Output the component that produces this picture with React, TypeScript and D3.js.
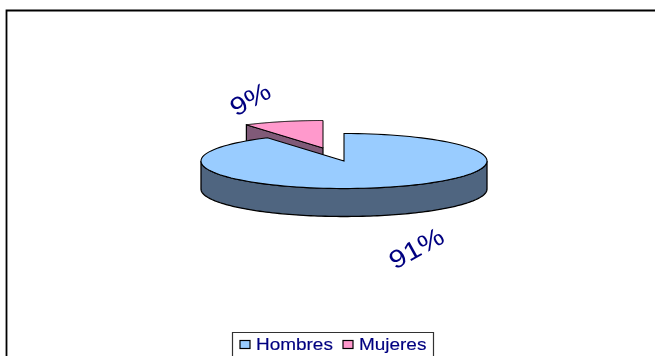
import React from "react";
import * as d3 from "d3";

const categories = ["Hombres", "Mujeres"];
const values = [91, 9];
const percentLabels = ["91%", "9%"];
const colors = ["#99CCFF", "#FF99CC"];
const wallColors = ["#4F6580", "#805A78"];
const ink = "#000080";

const W = 655, H = 356;
const cx = 344, cy = 161, rx = 143, ry = 27.5, depth = 28;
const explode: [number, number] = [-21, -13];

const xScale = d3.scaleLinear().domain([-1, 1]).range([-rx, rx]);
const yScale = d3.scaleLinear().domain([-1, 1]).range([-ry, ry]);
const pie = d3.pie<number>().sort(null).startAngle(0).endAngle(2 * Math.PI);
const arcs = pie(values);
const pt = (a: number, ox = 0, oy = 0): [number, number] => [
  cx + ox + xScale(Math.sin(a)),
  cy + oy + yScale(-Math.cos(a)),
];
const line = d3.line<[number, number]>();
const samples = (a0: number, a1: number, n = 120) =>
  d3.range(n + 1).map((i) => a0 + ((a1 - a0) * i) / n);

const topFace = (a0: number, a1: number, ox = 0, oy = 0) =>
  line([[cx + ox, cy + oy], ...samples(a0, a1).map((a) => pt(a, ox, oy))]) + "Z";

// outer wall of a slice: only the part of the rim that faces the viewer
const outerWall = (a0: number, a1: number) => {
  const lo = Math.max(a0, Math.PI / 2);
  const hi = Math.min(a1, (3 * Math.PI) / 2);
  const rim = samples(lo, hi).map((a) => pt(a));
  const low = rim.map(([x, y]) => [x, y + depth] as [number, number]).reverse();
  return line([...rim, ...low]) + "Z";
};

const cutWall = (a: number, ox: number, oy: number, d: number) => {
  const p = pt(a, ox, oy);
  const c: [number, number] = [cx + ox, cy + oy];
  return line([p, c, [c[0], c[1] + d], [p[0], p[1] + d]]) + "Z";
};

export default function App() {
  const [men, women] = arcs;
  const legendItems = [
    { x: 240, tx: 256 },
    { x: 343, tx: 359 },
  ];
  return (
    <svg
      width={W}
      height={H}
      viewBox={`0 0 ${W} ${H}`}
      style={{ position: "absolute", left: 0, top: 0, display: "block" }}
      fontFamily="'Liberation Sans', Arial, sans-serif"
    >
      <defs>
        <filter id="soft" x="-5%" y="-5%" width="110%" height="110%">
          <feGaussianBlur stdDeviation="0.35" />
        </filter>
      </defs>
      <rect width={W} height={H} fill="#fff" />
      <g filter="url(#soft)">
        <path d={`M6.5 ${H}V10.5H${W}`} fill="none" stroke="#000" strokeWidth={1.8} />

        {/* exploded slice */}
        <path d={cutWall(women.startAngle, explode[0], explode[1], depth)} fill={wallColors[1]} stroke="#000" strokeWidth={1.2} />
        <path d={topFace(women.startAngle, women.endAngle, explode[0], explode[1])} fill={colors[1]} stroke="#000" strokeWidth={1} />

        {/* main slice */}
        <path d={outerWall(men.startAngle, men.endAngle)} fill={wallColors[0]} stroke="#000" strokeWidth={1.3} />
        <path d={topFace(men.startAngle, men.endAngle)} fill={colors[0]} stroke="#000" strokeWidth={1.1} />

        {/* data labels */}
        <text transform="translate(236,117) rotate(-29) scale(1.15,1)" fontSize={25.5} fill={ink}>{percentLabels[1]}</text>
        <text transform="translate(395,270) rotate(-29) scale(1.15,1)" fontSize={25.5} fill={ink}>{percentLabels[0]}</text>

        {/* legend */}
        <path d={`M232.5 ${H}V332.5H433.5V${H}`} fill="#fff" stroke="#333" strokeWidth={1.2} />
        {categories.map((c, i) => (
          <g key={c}>
            <rect x={legendItems[i].x} y={340.5} width={10} height={8} fill={colors[i]} stroke="#000" strokeWidth={1.2} />
            <text transform={`translate(${legendItems[i].tx},350) scale(1.2,1)`} fontSize={15.8} fill={ink} stroke={ink} strokeWidth={0.15}>{c}</text>
          </g>
        ))}
      </g>
    </svg>
  );
}
